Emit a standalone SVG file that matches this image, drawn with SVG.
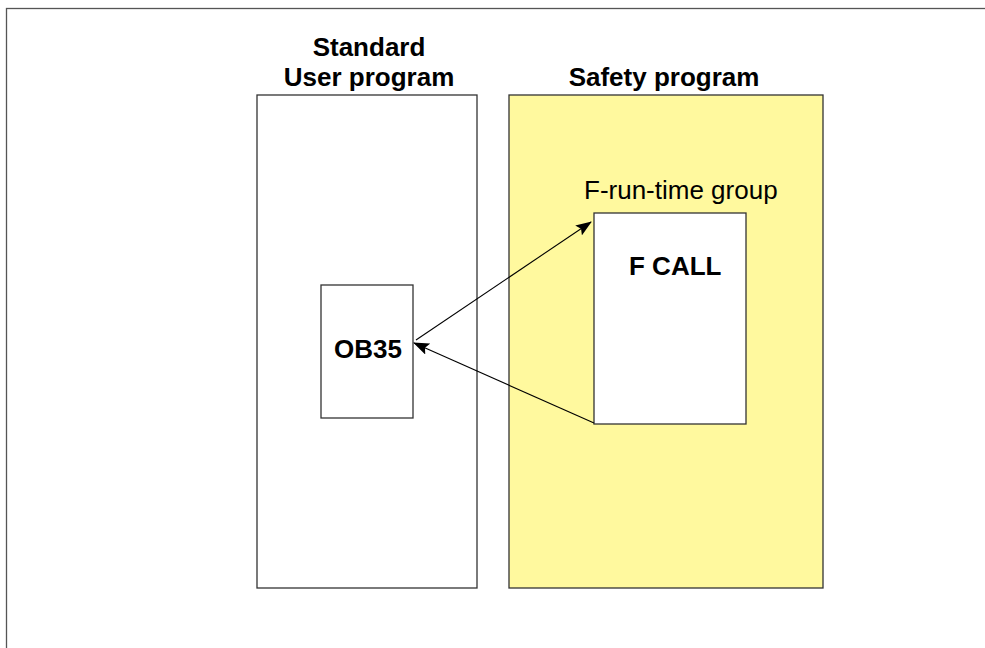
<svg xmlns="http://www.w3.org/2000/svg" width="985" height="648" viewBox="0 0 985 648">
<style>
.box{stroke:#333;stroke-width:1.3}
.b{font-family:"Liberation Sans",Arial,sans-serif;font-weight:bold;font-size:26px;fill:#000}
.n{font-family:"Liberation Sans",Arial,sans-serif;font-size:26px;fill:#000}
.c{stroke:#000;stroke-width:1.1;fill:none;marker-end:url(#ah)}
</style>
<defs>
<marker id="ah" markerWidth="16" markerHeight="12" refX="15" refY="6" orient="auto" markerUnits="userSpaceOnUse">
<path d="M0,0 L16,6 L0,12 L3,6 Z" fill="#000"/>
</marker>
</defs>
<rect x="0" y="0" width="985" height="648" fill="#fff"/>
<rect x="6.5" y="8.5" width="990" height="660" fill="none" stroke="#555" stroke-width="1.3"/>
<g id="standard">
<rect class="box" x="257" y="95" width="220" height="493" fill="#fff"/>
<text class="b" x="369" y="56" text-anchor="middle">Standard</text>
<text class="b" x="369" y="86" text-anchor="middle">User program</text>
</g>
<g id="safety">
<rect class="box" x="509" y="95" width="314" height="493" fill="#FFF99E"/>
<text class="b" x="664" y="86" text-anchor="middle">Safety program</text>
<text class="n" x="584" y="199">F-run-time group</text>
</g>
<g id="ob35">
<rect class="box" x="321" y="285" width="92" height="133" fill="#fff"/>
<text class="b" x="334" y="358">OB35</text>
</g>
<g id="fcall">
<rect class="box" x="594" y="213" width="152" height="211" fill="#fff"/>
<text class="b" x="629" y="275">F CALL</text>
</g>
<g id="connectors">
<line class="c" x1="416" y1="340" x2="591" y2="222"/>
<line class="c" x1="594" y1="423" x2="414" y2="343"/>
</g>
</svg>
